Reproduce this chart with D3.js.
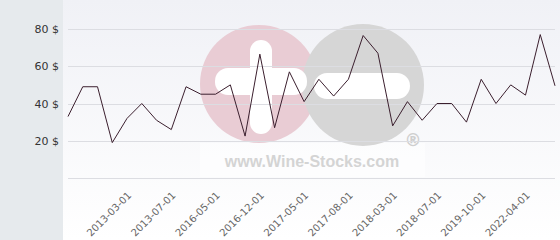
<!DOCTYPE html>
<html>
<head>
<meta charset="utf-8">
<script src="https://cdn.jsdelivr.net/npm/d3@7"></script>
<style>
  body { margin: 0; background: #fff; }
  svg { display: block; font-family: "DejaVu Sans", Verdana, sans-serif; }
</style>
</head>
<body>
<div id="chart"></div>
<script>
// prices, one per point
var prices = [33, 49, 49, 19, 32, 40, 31, 26, 49, 45, 45, 50, 22.5, 66.5, 27, 57, 41, 53, 44, 53,
              76.5, 67, 28, 41, 31, 40, 40, 30, 53, 40, 50, 44.5, 77, 49.5];
// label positions on the category axis and their text
var tick_index = [4, 7, 10, 13, 16, 19, 22, 25, 28, 31];
var tick_labels = ["2013-03-01", "2013-07-01", "2016-05-01", "2016-12-01", "2017-05-01",
                   "2017-08-01", "2018-03-01", "2018-07-01", "2019-10-01", "2022-04-01"];
var y_ticks = [0, 20, 40, 60, 80];

var width = 560, height = 240;

var svg = d3.select("#chart").append("svg")
    .attr("width", width)
    .attr("height", height);

var defs = svg.append("defs");
var grad = defs.append("linearGradient")
    .attr("id", "bg")
    .attr("x1", 0).attr("y1", 0).attr("x2", 0).attr("y2", 1);
grad.append("stop").attr("offset", "0%").attr("stop-color", "#f0f1f6");
grad.append("stop").attr("offset", "100%").attr("stop-color", "#ffffff");

// left panel + plot background
svg.append("rect").attr("x", 0).attr("y", 0).attr("width", 63).attr("height", height).attr("fill", "#e6eaed");
svg.append("rect").attr("x", 63).attr("y", 0).attr("width", width - 63).attr("height", height).attr("fill", "url(#bg)");

var x = d3.scalePoint()
    .domain(d3.range(prices.length))
    .range([68, 555]);

var y = d3.scaleLinear()
    .domain([0, 80])
    .range([178, 29]);

// watermark
var wm = svg.append("g").attr("class", "watermark");
wm.append("rect").attr("x", 200).attr("y", 143).attr("width", 225).attr("height", 34)
    .attr("fill", "#ffffff").attr("opacity", 0.5);
wm.append("circle").attr("cx", 259).attr("cy", 84).attr("r", 59).attr("fill", "#e9ccd4");
wm.append("circle").attr("cx", 363).attr("cy", 85).attr("r", 61).attr("fill", "#d6d6d6");
wm.append("rect").attr("x", 250).attr("y", 40).attr("width", 22).attr("height", 94).attr("rx", 11)
    .attr("fill", "#ffffff");
wm.append("rect").attr("x", 215).attr("y", 68).attr("width", 92).attr("height", 27).attr("rx", 13)
    .attr("fill", "#ffffff");
wm.append("rect").attr("x", 314).attr("y", 73).attr("width", 96).attr("height", 26).attr("rx", 13)
    .attr("fill", "#ffffff");
wm.append("text").attr("x", 312).attr("y", 167)
    .attr("text-anchor", "middle")
    .style("font-family", "Liberation Sans, Arial, sans-serif")
    .style("font-weight", "bold")
    .style("font-size", "16px")
    .attr("fill", "#d4d4d4")
    .text("www.Wine-Stocks.com");
wm.append("text").attr("x", 413).attr("y", 146)
    .attr("text-anchor", "middle")
    .style("font-family", "DejaVu Sans, sans-serif")
    .style("font-weight", "bold")
    .style("font-size", "17px")
    .attr("fill", "#cfcfcf")
    .text("®");

// grid lines
svg.append("g").selectAll("line")
    .data(y_ticks)
    .enter().append("line")
    .attr("x1", 68).attr("x2", 555)
    .attr("y1", function(d) { return Math.round(y(d)) + 0.5; })
    .attr("y2", function(d) { return Math.round(y(d)) + 0.5; })
    .attr("stroke", "#dcdde2")
    .attr("stroke-width", 1);

// y labels
svg.append("g").selectAll("text")
    .data(y_ticks.filter(function(d) { return d > 0; }))
    .enter().append("text")
    .attr("x", 59)
    .attr("y", function(d) { return y(d) + 4; })
    .attr("text-anchor", "end")
    .style("font-size", "11px")
    .attr("fill", "#333")
    .text(function(d) { return d + " $"; });

// x labels
svg.append("g").selectAll("text")
    .data(tick_index)
    .enter().append("text")
    .attr("transform", function(d) { return "translate(" + (x(d) + 5) + ",196) rotate(-45)"; })
    .attr("text-anchor", "end")
    .style("font-size", "10px")
    .attr("fill", "#666")
    .text(function(d, i) { return tick_labels[i]; });

// price line
var line = d3.line()
    .x(function(d, i) { return x(i); })
    .y(function(d) { return y(d); });

svg.append("path")
    .datum(prices)
    .attr("d", line)
    .attr("fill", "none")
    .attr("stroke", "#3b1f2e")
    .attr("stroke-width", 1);
</script>
</body>
</html>
